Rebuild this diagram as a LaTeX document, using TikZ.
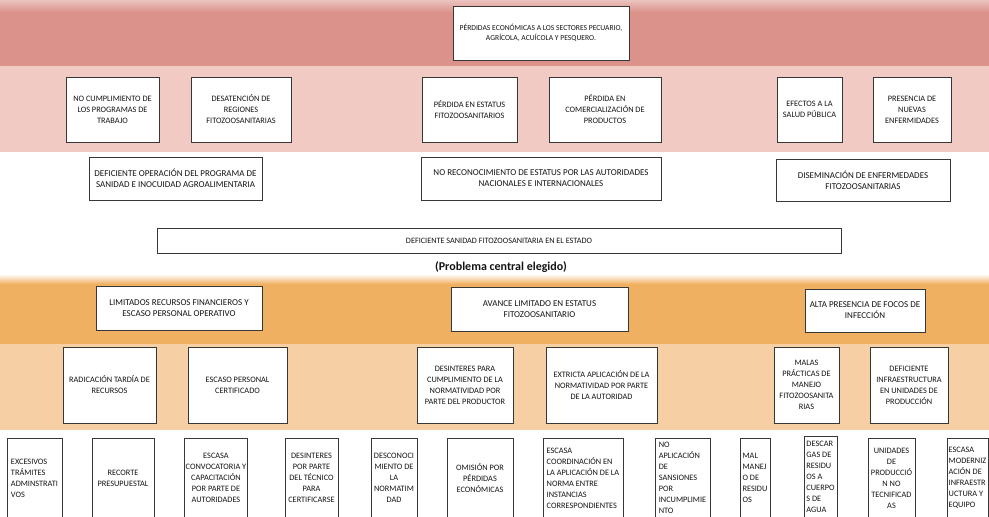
\documentclass[tikz,border=0pt]{standalone}
\usepackage{fontspec}
\setmainfont{Carlito}
\definecolor{bandred}{RGB}{219,146,138}
\definecolor{bandpink}{RGB}{241,202,196}
\definecolor{bandorange}{RGB}{240,176,98}
\definecolor{bandlorange}{RGB}{246,208,164}
\definecolor{boxline}{RGB}{55,55,55}
\definecolor{txt}{RGB}{20,20,20}
\tikzset{
  bx/.style={draw=boxline, line width=1pt, fill=white, inner sep=1pt, align=center,
    text=txt, font=\fontsize{8.3}{11}\selectfont},
  bxl/.style={align=left},
  bxbig/.style={font=\fontsize{9}{11}\selectfont},
  bxsmall/.style={font=\fontsize{7.6}{10}\selectfont},
  bxcentral/.style={font=\fontsize{8.2}{10}\selectfont},
  lbl/.style={font=\bfseries\fontsize{12}{14}\selectfont, text=txt}
}
\newcommand\boxnode[7]{%
  \pgfmathsetmacro\mybw{#4-#2}%
  \pgfmathsetmacro\mybh{#5-#3}%
  \node[bx,#6,minimum width=\mybw pt,minimum height=\mybh pt] (#1) at ({(#2+#4)/2},{(#3+#5)/2}) {#7};}
\begin{document}
\begin{tikzpicture}[x=1pt,y=-1pt]
\clip (0,0) rectangle (989,517);
\fill[white] (0,0) rectangle (989,517);
\shade[top color=bandred!55!white, bottom color=bandred] (0,0) rectangle (989,12);
\fill[bandred] (0,12) rectangle (989,66);
\fill[bandpink] (0,66) rectangle (989,152);
\shade[top color=white, bottom color=bandorange] (0,274) rectangle (989,284);
\fill[bandorange] (0,284) rectangle (989,344);
\fill[bandlorange] (0,344) rectangle (989,430);
% top
\boxnode{t1}{453}{6}{629}{60}{bxsmall}{PÉRDIDAS ECONÓMICAS A LOS SECTORES PECUARIO,\\AGRÍCOLA, ACUÍCOLA Y PESQUERO.}
% row 2
\boxnode{c1}{66}{77}{159}{142}{}{NO CUMPLIMIENTO DE\\LOS PROGRAMAS DE\\TRABAJO}
\boxnode{c2}{191}{77}{291}{142}{}{DESATENCIÓN DE\\REGIONES\\FITOZOOSANITARIAS}
\boxnode{c3}{422}{77}{517}{142}{}{PÉRDIDA EN ESTATUS\\FITOZOOSANITARIOS}
\boxnode{c4}{549}{77}{661}{142}{}{PÉRDIDA EN\\COMERCIALIZACIÓN DE\\PRODUCTOS}
\boxnode{c5}{777}{77}{842}{142}{}{EFECTOS A LA\\SALUD PÚBLICA}
\boxnode{c6}{873}{77}{951}{142}{}{PRESENCIA DE\\NUEVAS\\ENFERMIDADES}
% row 3
\boxnode{e1}{89}{157}{262}{200}{bxbig}{DEFICIENTE OPERACIÓN DEL PROGRAMA DE\\SANIDAD E INOCUIDAD AGROALIMENTARIA}
\boxnode{e2}{421}{157}{661}{200}{bxbig}{NO RECONOCIMIENTO DE ESTATUS POR LAS AUTORIDADES\\NACIONALES E INTERNACIONALES}
\boxnode{e3}{776}{159}{950}{201}{bxbig}{DISEMINACIÓN DE ENFERMEDADES\\FITOZOOSANITARIAS}
% central problem
\boxnode{p1}{157}{228}{841}{253}{bxcentral}{DEFICIENTE SANIDAD FITOZOOSANITARIA EN EL ESTADO}
\node[lbl] (p1lbl) at (501,267) {(Problema central elegido)};
% row 4
\boxnode{f1}{96}{286}{262}{330}{bxbig}{LIMITADOS RECURSOS FINANCIEROS Y\\ESCASO PERSONAL OPERATIVO}
\boxnode{f2}{451}{287}{628}{331}{bxbig}{AVANCE LIMITADO EN ESTATUS\\FITOZOOSANITARIO}
\boxnode{f3}{805}{289}{925}{332}{bxbig}{ALTA PRESENCIA DE FOCOS DE\\INFECCIÓN}
% row 5
\boxnode{g1}{63}{347}{156}{423}{}{RADICACIÓN TARDÍA DE\\RECURSOS}
\boxnode{g2}{188}{347}{287}{423}{}{ESCASO PERSONAL\\CERTIFICADO}
\boxnode{g3}{417}{347}{513}{423}{}{DESINTERES PARA\\CUMPLIMIENTO DE LA\\NORMATIVIDAD POR\\PARTE DEL PRODUCTOR}
\boxnode{g4}{546}{347}{657}{423}{}{EXTRICTA APLICACIÓN DE LA\\NORMATIVIDAD POR PARTE\\DE LA AUTORIDAD}
\boxnode{g5}{774}{347}{839}{423}{}{MALAS\\PRÁCTICAS DE\\MANEJO\\FITOZOOSANITA\\RIAS}
\boxnode{g6}{870}{347}{948}{423}{}{DEFICIENTE\\INFRAESTRUCTURA\\EN UNIDADES DE\\PRODUCCIÓN}
% bottom row
\boxnode{h1}{7}{438}{62}{518}{bxl}{EXCESIVOS\\TRÁMITES\\ADMINSTRATI\\VOS}
\boxnode{h2}{92}{438}{154}{518}{}{RECORTE\\PRESUPUESTAL}
\boxnode{h3}{186}{438}{246}{518}{}{ESCASA\\CONVOCATORIA Y\\CAPACITACIÓN\\POR PARTE DE\\AUTORIDADES}
\boxnode{h4}{285}{438}{338}{518}{}{DESINTERES\\POR PARTE\\DEL TÉCNICO\\PARA\\CERTIFICARSE}
\boxnode{h5}{371}{438}{417}{518}{}{DESCONOCI\\MIENTO DE\\LA\\NORMATIM\\DAD}
\boxnode{h6}{447}{438}{513}{518}{}{OMISIÓN POR\\PÉRDIDAS\\ECONÓMICAS}
\boxnode{h7}{543}{438}{623}{518}{bxl}{ESCASA\\COORDINACIÓN EN\\LA APLICACIÓN DE LA\\NORMA ENTRE\\INSTANCIAS\\CORRESPONDIENTES}
\boxnode{h8}{655}{438}{710}{518}{bxl}{NO\\APLICACIÓN\\DE\\SANSIONES\\POR\\INCUMPLIMIE\\NTO}
\boxnode{h9}{740}{438}{770}{518}{bxl}{MAL\\MANEJ\\O DE\\RESIDU\\OS}
\boxnode{h10}{804}{436}{837}{518}{bxl}{DESCAR\\GAS DE\\RESIDU\\OS A\\CUERPO\\S DE\\AGUA}
\boxnode{h11}{868}{438}{915}{518}{}{UNIDADES\\DE\\PRODUCCIÓ\\N NO\\TECNIFICAD\\AS}
\boxnode{h12}{947}{438}{988}{518}{bxl}{ESCASA\\MODERNIZ\\ACIÓN DE\\INFRAESTR\\UCTURA Y\\EQUIPO}
\end{tikzpicture}
\end{document}
